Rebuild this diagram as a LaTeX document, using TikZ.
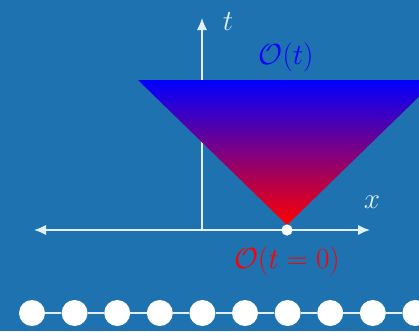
\documentclass[tikz,border=0pt]{standalone}
\usetikzlibrary{arrows.meta}
\definecolor{bgblue}{RGB}{30,114,176}
\definecolor{axiswhite}{RGB}{225,240,250}
\begin{document}
\begin{tikzpicture}[x=0.025cm,y=-0.025cm,every node/.style={font=\huge}]
    \tikzset{
      axis/.style={line width=1.3pt,axiswhite},
      tip/.style={-{Latex[length=3mm,width=2.6mm]}},
      site/.style={circle,fill=white,inner sep=0pt,minimum size=0.65cm},
      bond/.style={line width=1.2pt,axiswhite},
      origin/.style={circle,fill=white,inner sep=0pt,minimum size=0.28cm}
    }
    \fill[bgblue] (0,0) rectangle (419,331);
    \clip (0,0) rectangle (419,331);

    % axes
    \coordinate (o) at (202,230);
    \coordinate (xl) at (34,230);
    \coordinate (xr) at (370,230);
    \coordinate (tt) at (202,18);
    \draw[axis,{Latex[length=3mm,width=2.6mm]}-{Latex[length=3mm,width=2.6mm]}] (xl) -- (xr);
    \draw[axis,tip] (o) -- (tt);
    \node[axiswhite] (tlab) at (228,22) {$t$};
    \node[axiswhite] (xlab) at (372,202) {$x$};

    % light cone
    \coordinate (apex) at (287,225);
    \shade[top color=blue,bottom color=red] (138,80) -- (436,80) -- (apex) -- cycle;
    \node[origin] (op) at (287,230) {};
    \node[blue] (ot) at (286,57) {$\mathcal{O}(t)$};
    \node[red] (ozero) at (287,261) {$\mathcal{O}(t=0)$};

    % chain of sites
    \foreach \i in {0,...,9}
      \node[site] (s\i) at (32+42.6*\i,313) {};
    \foreach \i [evaluate=\i as \j using int(\i+1)] in {0,...,8}
      \draw[bond] (s\i) -- (s\j);
\end{tikzpicture}
\end{document}
